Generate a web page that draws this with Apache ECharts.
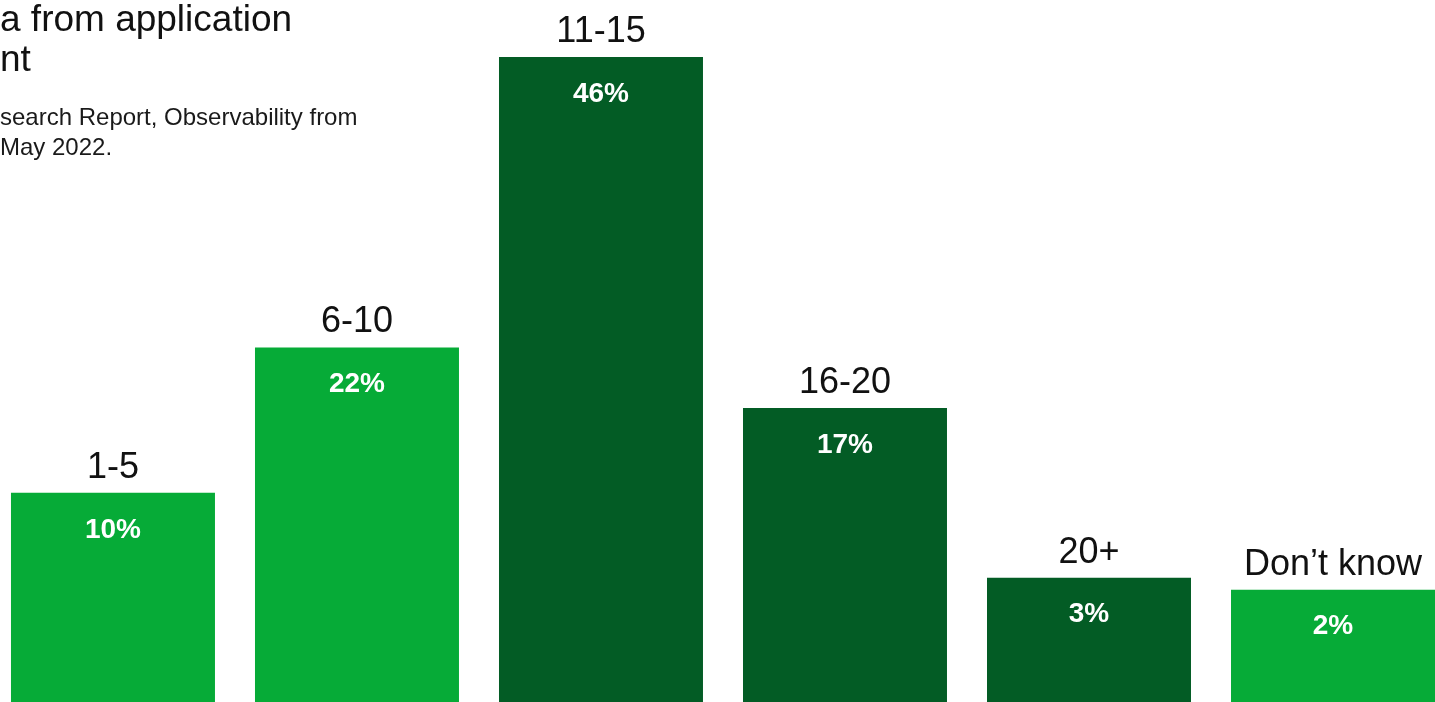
<!DOCTYPE html>
<html>
<head>
<meta charset="utf-8">
<script src="https://cdn.jsdelivr.net/npm/echarts@6/dist/echarts.min.js"></script>
<style>
html,body{margin:0;padding:0;background:#fff;}
#chart{width:1435px;height:702px;}
</style>
</head>
<body>
<div id="chart"></div>
<script>
var categories = ['1-5', '6-10', '11-15', '16-20', '20+', 'Don\u2019t know'];
var values = [10, 22, 46, 17, 3, 2];
var barColors = ['#06ab37', '#06ab37', '#035c25', '#035c25', '#035c25', '#06ab37'];
var titleLines = ['a from application', 'nt'];
var subtitleLines = ['search Report, Observability from', 'May 2022.'];

var Y_MIN = -7.27, Y_MAX = 50.7;
var X_MIN = -0.463, X_MAX = 5.418;
var FONT = "'Liberation Sans', Arial, Helvetica, sans-serif";

var chart = echarts.init(document.getElementById('chart'));
chart.setOption({
  backgroundColor: '#ffffff',
  animation: false,
  title: {
    text: titleLines.join('\n'),
    subtext: subtitleLines.join('\n'),
    left: 0,
    top: 1,
    padding: 0,
    itemGap: 22,
    textStyle: {fontFamily: FONT, fontSize: 37, fontWeight: 'normal', color: '#111', lineHeight: 40},
    subtextStyle: {fontFamily: FONT, fontSize: 24, color: '#1a1a1a', lineHeight: 30}
  },
  grid: {left: 0, right: 0, top: 0, bottom: 0, containLabel: false},
  xAxis: {
    type: 'value', min: X_MIN, max: X_MAX,
    axisLine: {show: false}, axisTick: {show: false}, axisLabel: {show: false}, splitLine: {show: false}
  },
  yAxis: {
    type: 'value', min: Y_MIN, max: Y_MAX,
    axisLine: {show: false}, axisTick: {show: false}, axisLabel: {show: false}, splitLine: {show: false}
  },
  series: [{
    type: 'custom',
    data: values.map(function (v, i) { return [i, v]; }),
    renderItem: function (params, api) {
      var i = params.dataIndex;
      var v = api.value(1);
      var top = api.coord([api.value(0), v]);
      var base = api.coord([api.value(0), Y_MIN]);
      var bw = api.size([1, 0])[0] * 0.836;
      return {
        type: 'group',
        children: [
          {type: 'rect', shape: {x: top[0] - bw / 2, y: top[1], width: bw, height: base[1] - top[1]},
           style: {fill: barColors[i]}},
          {type: 'text', style: {text: categories[i], x: top[0], y: top[1] - 25, align: 'center', verticalAlign: 'middle',
            font: 'normal 36px ' + FONT, fill: '#111'}},
          {type: 'text', style: {text: values[i] + '%', x: top[0], y: top[1] + 37, align: 'center', verticalAlign: 'middle',
            font: 'bold 28px ' + FONT, fill: '#ffffff'}}
        ]
      };
    }
  }]
});
</script>
</body>
</html>
